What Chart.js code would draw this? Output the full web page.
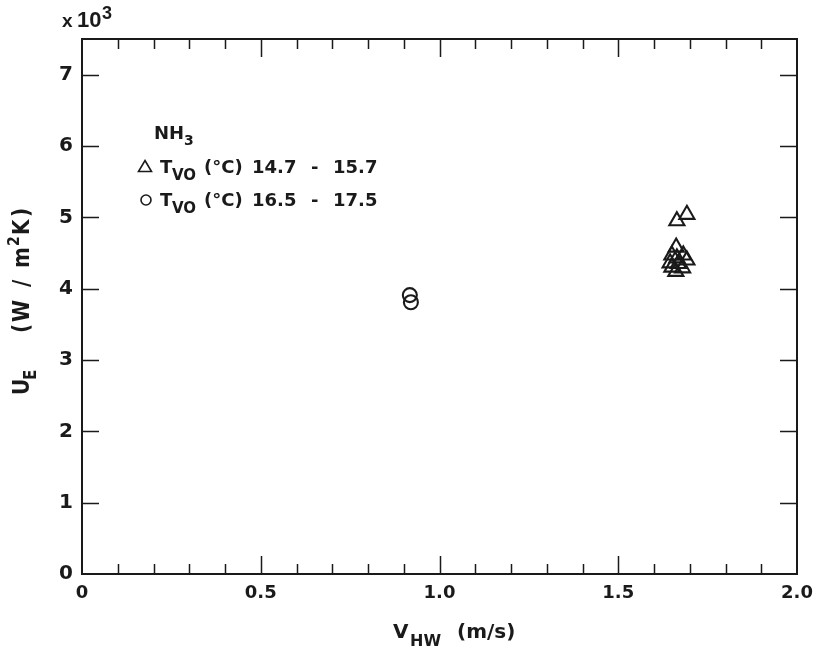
<!DOCTYPE html>
<html>
<head>
<meta charset="utf-8">
<script src="https://cdn.jsdelivr.net/npm/chart.js@4/dist/chart.umd.min.js"></script>
<style>
  html, body { margin: 0; padding: 0; background: #ffffff; }
  #wrap { width: 814px; height: 650px; position: relative; }
</style>
</head>
<body>
<div id="wrap"><canvas id="c" width="814" height="650"></canvas></div>
<script>
// NH3 evaporator: overall heat transfer coefficient U_E (x10^3 W/m2K)
// against hot-water velocity V_HW (m/s)

// Series 1: T_VO 14.7 - 15.7 °C (triangles)
const TRI_V = [1.692, 1.664, 1.662, 1.650, 1.682, 1.664, 1.645, 1.692, 1.668, 1.650, 1.680, 1.661];
const TRI_U = [5.04, 4.95, 4.58, 4.47, 4.47, 4.43, 4.36, 4.40, 4.35, 4.30, 4.29, 4.24];

// Series 2: T_VO 16.5 - 17.5 °C (circles)
const CIR_V = [0.917, 0.920];
const CIR_U = [3.91, 3.81];

// Axis ranges and labelled ticks
const X_MIN = 0, X_MAX = 2.0;
const Y_MIN = 0, Y_MAX = 7.5;
const X_TICKS = [0, 0.5, 1.0, 1.5, 2.0];
const Y_TICKS = [0, 1, 2, 3, 4, 5, 6, 7];
const X_MINOR_COUNT = 20;   // minor marks every 0.1 m/s

// Legend entries
const LEGEND_TITLE = ['NH', '3'];
const LEGEND_RANGES = [['14.7', '15.7'], ['16.5', '17.5']];

const FONT = "'DejaVu Sans', Verdana, sans-serif";
const FONT_NARROW = "'Liberation Sans', Arial, Helvetica, sans-serif";
const INK = '#1a1a1a';

function toPoints(xs, ys) {
  return xs.map((x, i) => ({ x: x, y: ys[i] }));
}

function txt(ctx, s, x, y, size, family) {
  ctx.save();
  ctx.font = 'bold ' + size + 'px ' + (family || FONT);
  ctx.textAlign = 'left';
  ctx.textBaseline = 'alphabetic';
  ctx.fillText(s, x, y);
  ctx.restore();
}

// Frame, inward tick marks and the annotation text
const framePlugin = {
  id: 'frame',
  beforeDraw(chart) {
    const ctx = chart.ctx;
    ctx.save();
    ctx.fillStyle = '#ffffff';
    ctx.fillRect(0, 0, chart.width, chart.height);
    ctx.restore();
  },
  afterDatasetsDraw(chart) {
    const ctx = chart.ctx;
    const a = chart.chartArea;
    const xs = chart.scales.x, ys = chart.scales.y;
    ctx.save();
    ctx.strokeStyle = INK;
    ctx.fillStyle = INK;

    // box
    ctx.lineWidth = 2;
    ctx.strokeRect(a.left, a.top, a.right - a.left, a.bottom - a.top);

    // x ticks, bottom and top
    ctx.lineWidth = 1.5;
    ctx.beginPath();
    for (let k = 1; k < X_MINOR_COUNT; k++) {
      const v = X_MIN + (X_MAX - X_MIN) * k / X_MINOR_COUNT;
      const px = Math.round(xs.getPixelForValue(v)) + 0.5;
      const len = (k % 5 === 0) ? 18 : 10;
      ctx.moveTo(px, a.bottom); ctx.lineTo(px, a.bottom - len);
      ctx.moveTo(px, a.top); ctx.lineTo(px, a.top + len);
    }
    // y ticks, left and right
    Y_TICKS.forEach(v => {
      if (v === Y_MIN) return;
      const py = Math.round(ys.getPixelForValue(v)) + 0.5;
      ctx.moveTo(a.left, py); ctx.lineTo(a.left + 17, py);
      ctx.moveTo(a.right, py); ctx.lineTo(a.right - 17, py);
    });
    ctx.stroke();

    // x10^3 multiplier
    txt(ctx, 'x', 62, 27, 19, FONT_NARROW);
    txt(ctx, '10', 77, 27, 22, FONT_NARROW);
    txt(ctx, '3', 102, 19, 18, FONT_NARROW);

    // x axis title
    txt(ctx, 'V', 393, 638, 20);
    txt(ctx, 'HW', 410, 646, 16);
    txt(ctx, '(m/s)', 457, 638, 20);

    // y axis title, rotated
    ctx.save();
    ctx.translate(29, 395);
    ctx.rotate(-Math.PI / 2);
    ctx.scale(1, 1.12);
    const segs = [
      ['U', 0, 0, 20], ['E', 15, 6, 15],
      ['(', 62, 0, 20], ['W', 73, 0, 20], ['/', 108, 0, 20],
      ['m', 127, 0, 20], ['2', 149, -9, 14], ['K', 160, 0, 20], [')', 178, 0, 20]
    ];
    segs.forEach(s => txt(ctx, s[0], s[1], s[2], s[3]));
    ctx.restore();

    // legend
    txt(ctx, LEGEND_TITLE[0], 154, 139, 18);
    txt(ctx, LEGEND_TITLE[1], 184, 145, 14);

    const rows = [173, 206];
    ctx.lineWidth = 1.6;
    // triangle marker
    ctx.beginPath();
    ctx.moveTo(145, 160.5);
    ctx.lineTo(151.5, 171.5);
    ctx.lineTo(138.5, 171.5);
    ctx.closePath();
    ctx.stroke();
    // circle marker
    ctx.beginPath();
    ctx.arc(146, 200, 5, 0, Math.PI * 2);
    ctx.stroke();

    rows.forEach((b, i) => {
      txt(ctx, 'T', 160, b, 18);
      txt(ctx, 'VO', 172, b + 7, 15);
      txt(ctx, '(°C)', 204, b, 18);
      txt(ctx, LEGEND_RANGES[i][0], 252, b, 18);
      txt(ctx, '-', 311, b, 18);
      txt(ctx, LEGEND_RANGES[i][1], 333, b, 18);
    });
    ctx.restore();
  }
};

const markerBase = {
  borderColor: INK,
  backgroundColor: 'rgba(0,0,0,0)',
  borderWidth: 2.1,
  showLine: false
};

new Chart(document.getElementById('c'), {
  type: 'scatter',
  data: {
    datasets: [
      Object.assign({
        label: 'T_VO 14.7 - 15.7',
        data: toPoints(TRI_V, TRI_U),
        pointStyle: 'triangle',
        pointRadius: 8.7
      }, markerBase),
      Object.assign({
        label: 'T_VO 16.5 - 17.5',
        data: toPoints(CIR_V, CIR_U),
        pointStyle: 'circle',
        pointRadius: 7
      }, markerBase)
    ]
  },
  options: {
    responsive: false,
    animation: false,
    devicePixelRatio: 1,
    layout: { padding: { left: 0, right: 17, top: 39, bottom: 0 } },
    plugins: { legend: { display: false }, tooltip: { enabled: false } },
    scales: {
      x: {
        type: 'linear', min: X_MIN, max: X_MAX,
        grid: { display: false, drawTicks: false },
        border: { display: false },
        afterBuildTicks: s => { s.ticks = X_TICKS.map(v => ({ value: v })); },
        afterFit: s => { s.height = 76; s.paddingLeft = 0; s.paddingRight = 0; },
        ticks: {
          autoSkip: false, maxRotation: 0, padding: 9, color: INK,
          font: { family: FONT, size: 18, weight: 'bold' },
          callback: v => (v === 0 ? '0' : Number(v).toFixed(1))
        }
      },
      y: {
        type: 'linear', min: Y_MIN, max: Y_MAX,
        grid: { display: false, drawTicks: false },
        border: { display: false },
        afterBuildTicks: s => { s.ticks = Y_TICKS.map(v => ({ value: v })); },
        afterFit: s => { s.width = 82; s.paddingTop = 0; s.paddingBottom = 0; },
        ticks: {
          autoSkip: false, padding: 9, color: INK,
          font: { family: FONT, size: 20, weight: 'bold' },
          callback: v => String(v)
        }
      }
    }
  },
  plugins: [framePlugin]
});
</script>
</body>
</html>
